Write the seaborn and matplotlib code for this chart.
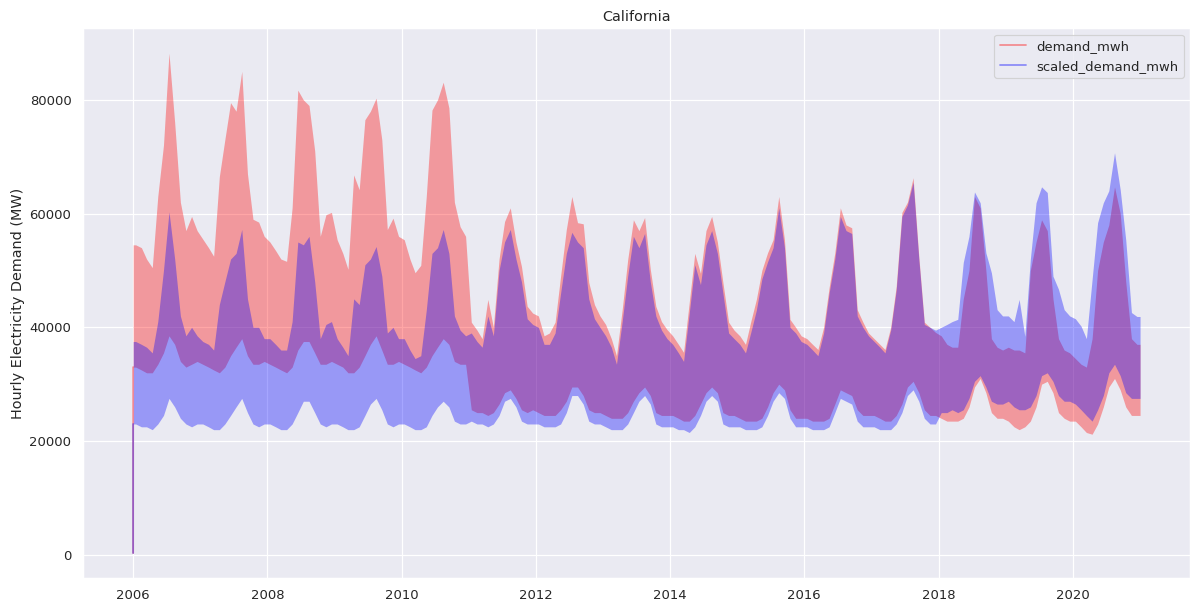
import pandas as pd
import matplotlib
matplotlib.use('Agg')
import matplotlib.pyplot as plt
import seaborn as sns

# monthly envelope of the hourly series, one row per year
demand_max = [
    54500, 54000, 52000, 50500, 63000, 72000, 88200, 76000, 62000, 57000, 59500, 57000,
    55500, 54000, 52500, 66500, 73000, 79500, 78000, 85000, 67000, 59000, 58500, 56000,
    55000, 53500, 52000, 51600, 61000, 81700, 80000, 79000, 71000, 56000, 59800, 60200,
    55400, 53000, 50200, 66800, 64200, 76500, 78000, 80300, 73000, 57200, 59200, 56000,
    55400, 52000, 49600, 50900, 63000, 78200, 80000, 83100, 78600, 62000, 57700, 56000,
    40900, 39500, 38000, 44900, 40000, 52000, 58600, 61000, 55000, 50700, 43700, 42500,
    42000, 38500, 39000, 40900, 49000, 57200, 63000, 58400, 58200, 47900, 44000, 42000,
    40500, 38000, 35000, 43100, 51900, 58900, 57000, 59300, 50200, 43700, 41000, 39600,
    38500, 37000, 35600, 44400, 53000, 49500, 57000, 59500, 55000, 47900, 40900, 39500,
    38500, 37000, 40900, 44900, 50000, 53100, 55400, 63000, 55400, 41400, 40000, 38500,
    38000, 37000, 36100, 40000, 47000, 53100, 61000, 58000, 57500, 43100, 40900, 39000,
    38000, 37000, 36100, 40000, 47200, 60200, 62000, 66300, 52500, 40900, 40000, 39100,
    38500, 37000, 36500, 36500, 45000, 50000, 63000, 61000, 50000, 38000, 36500, 36000,
    36500, 36000, 36000, 35500, 50000, 55000, 58900, 57000, 45000, 38000, 36000, 35500,
    34500, 33500, 33000, 38000, 50000, 55000, 58000, 64700, 60000, 48000, 38000, 37000,
]
demand_min = [
    33000, 32500, 32000, 32000, 33500, 35500, 38500, 37000, 34000, 33000, 33500, 34000,
    33500, 33000, 32500, 32000, 33000, 35000, 36500, 38000, 35000, 33500, 33500, 34000,
    33500, 33000, 32500, 32000, 33000, 36000, 37500, 37500, 35500, 33500, 33500, 34000,
    33500, 33000, 32000, 32000, 33000, 35000, 37000, 38500, 36000, 33500, 33500, 34000,
    33500, 33000, 32500, 32000, 33000, 35000, 36500, 38000, 37000, 34000, 33500, 33500,
    25500, 25000, 25000, 24500, 25000, 26500, 28500, 29000, 27500, 25500, 25000, 25500,
    25000, 24500, 24500, 24500, 25500, 27000, 29500, 29500, 28000, 25500, 25000, 25000,
    24500, 24000, 24000, 24000, 25000, 27000, 28500, 29500, 28000, 25000, 24500, 24500,
    24500, 24000, 23500, 23500, 24500, 26500, 28500, 29500, 28500, 25000, 24500, 24500,
    24000, 23500, 23500, 23500, 24000, 26000, 28500, 30000, 29000, 25500, 24000, 24000,
    24000, 23500, 23500, 23500, 24000, 26500, 29000, 28500, 28000, 25500, 24500, 24500,
    24500, 24000, 23500, 23500, 24500, 26500, 29500, 30500, 28500, 25500, 24500, 24500,
    24000, 23500, 23500, 23500, 24000, 26000, 29500, 31000, 28500, 25000, 24000, 24000,
    23500, 22500, 22000, 22500, 23500, 26000, 30000, 30500, 28500, 25000, 24000, 23500,
    23500, 22500, 21500, 21200, 23000, 26000, 29500, 31000, 29000, 26000, 24500, 24500,
]
scaled_max = [
    37500, 37000, 36500, 35500, 41000, 50000, 60300, 52000, 42000, 38500, 40000, 38500,
    37500, 37000, 36000, 44000, 48000, 52000, 53000, 57200, 45000, 40000, 40000, 38000,
    38000, 37000, 36000, 36000, 41000, 55000, 54500, 56000, 48000, 38000, 40500, 41000,
    38000, 36500, 35000, 45000, 44000, 51000, 52000, 54200, 49000, 39000, 40000, 38000,
    38000, 36000, 34500, 35000, 43000, 53000, 54000, 57200, 53000, 42000, 39500, 38500,
    39000, 37500, 36500, 42000, 38500, 50000, 55000, 57200, 52000, 48000, 41500, 40500,
    40000, 37000, 37000, 39000, 46000, 53000, 56700, 55000, 54000, 45000, 41500, 40000,
    38500, 36500, 33500, 41000, 49000, 56000, 54000, 56500, 48000, 42000, 39500, 38000,
    37000, 35500, 34000, 42500, 51000, 47500, 54500, 57000, 53000, 46000, 39000, 38000,
    37000, 35500, 39000, 43000, 48500, 51500, 54000, 61000, 54000, 40000, 39000, 37500,
    37000, 36000, 35000, 39000, 46000, 52000, 59500, 57000, 56500, 42000, 40000, 38500,
    37500, 36500, 35500, 39500, 46500, 59500, 61500, 65500, 52000, 40500, 40000, 39500,
    40000, 40500, 41000, 41400, 51400, 56000, 63800, 61900, 53100, 49600, 43100, 42000,
    42000, 41000, 44900, 38400, 52000, 61900, 64700, 63700, 49000, 46700, 43100, 42000,
    41500, 40200, 38000, 48400, 58400, 61900, 64000, 70700, 64200, 55400, 42600, 41900,
]
scaled_min = [
    23000, 22500, 22500, 22000, 23000, 24500, 27500, 26000, 24000, 23000, 22500, 23000,
    23000, 22500, 22000, 22000, 23000, 24500, 26000, 27500, 25000, 23000, 22500, 23000,
    23000, 22500, 22000, 22000, 23000, 25000, 27000, 27000, 25000, 23000, 22500, 23000,
    23000, 22500, 22000, 22000, 22500, 24500, 26500, 27500, 25500, 23000, 22500, 23000,
    23000, 22500, 22000, 22000, 22500, 24500, 26000, 27000, 26000, 23500, 23000, 23000,
    23500, 23000, 23000, 22500, 23000, 24500, 27000, 27500, 26000, 23500, 23000, 23000,
    23000, 22500, 22500, 22500, 23000, 25000, 28000, 28000, 26500, 23500, 23000, 23000,
    22500, 22000, 22000, 22000, 23000, 25000, 27000, 28000, 26500, 23000, 22500, 22500,
    22500, 22000, 22000, 21500, 22500, 24500, 27000, 28000, 27000, 23000, 22500, 22500,
    22500, 22000, 22000, 22000, 22500, 24500, 27000, 28500, 27500, 24000, 22500, 22500,
    22500, 22000, 22000, 22000, 22500, 25000, 27500, 27000, 26500, 23500, 22500, 22500,
    22500, 22000, 22000, 22000, 23000, 25000, 28000, 29000, 27000, 24000, 23000, 23000,
    25000, 25000, 25500, 25000, 25500, 27500, 30500, 31500, 29500, 27000, 26500, 26500,
    27000, 26000, 25500, 25500, 26000, 28000, 31500, 32000, 30500, 28000, 27000, 27000,
    26500, 25500, 24500, 23500, 25500, 28000, 32000, 33500, 31500, 28500, 27500, 27500,
]
# very first hourly reading of both series
first_hour_mwh = 300

months = pd.date_range('2006-01-01', '2020-12-01', freq='MS') + pd.Timedelta(days=14)
first_hour = pd.Timestamp('2006-01-01 00:00')
second_hour = pd.Timestamp('2006-01-01 01:00')
last_hour = pd.Timestamp('2020-12-31 23:00')


def band_frame(name, lows, highs):
    dates = [second_hour] + list(months) + [last_hour]
    lo = [lows[0]] + lows + [lows[-1]]
    hi = [highs[0]] + highs + [highs[-1]]
    return pd.DataFrame({'date': dates * 2, 'mwh': lo + hi, 'series': name})


bands = pd.concat([band_frame('demand_mwh', demand_min, demand_max),
                   band_frame('scaled_demand_mwh', scaled_min, scaled_max)])
start = pd.DataFrame({
    'date': [first_hour, second_hour] * 2,
    'mwh': [first_hour_mwh, demand_min[0], first_hour_mwh, scaled_min[0]],
    'series': ['demand_mwh'] * 2 + ['scaled_demand_mwh'] * 2,
})

sns.set_theme()
palette = {'demand_mwh': 'red', 'scaled_demand_mwh': 'blue'}

dpi = 86
fig, ax = plt.subplots(figsize=(1200 / dpi, 613 / dpi), dpi=dpi)
sns.lineplot(data=bands, x='date', y='mwh', hue='series', palette=palette,
             estimator='mean', errorbar=('pi', 100), linewidth=0,
             err_kws={'alpha': 0.35, 'linewidth': 0}, legend=False, ax=ax)
sns.lineplot(data=start, x='date', y='mwh', hue='series', palette=palette,
             alpha=0.4, linewidth=1.5, ax=ax)

handles, labels = ax.get_legend_handles_labels()
ax.legend(handles, labels, loc='upper right')
ax.set_title('California')
ax.set_xlabel('')
ax.set_ylabel('Hourly Electricity Demand (MW)')

plt.subplots_adjust(left=0.069, right=0.992, top=0.954, bottom=0.057)
plt.savefig('out.png', dpi=dpi)
